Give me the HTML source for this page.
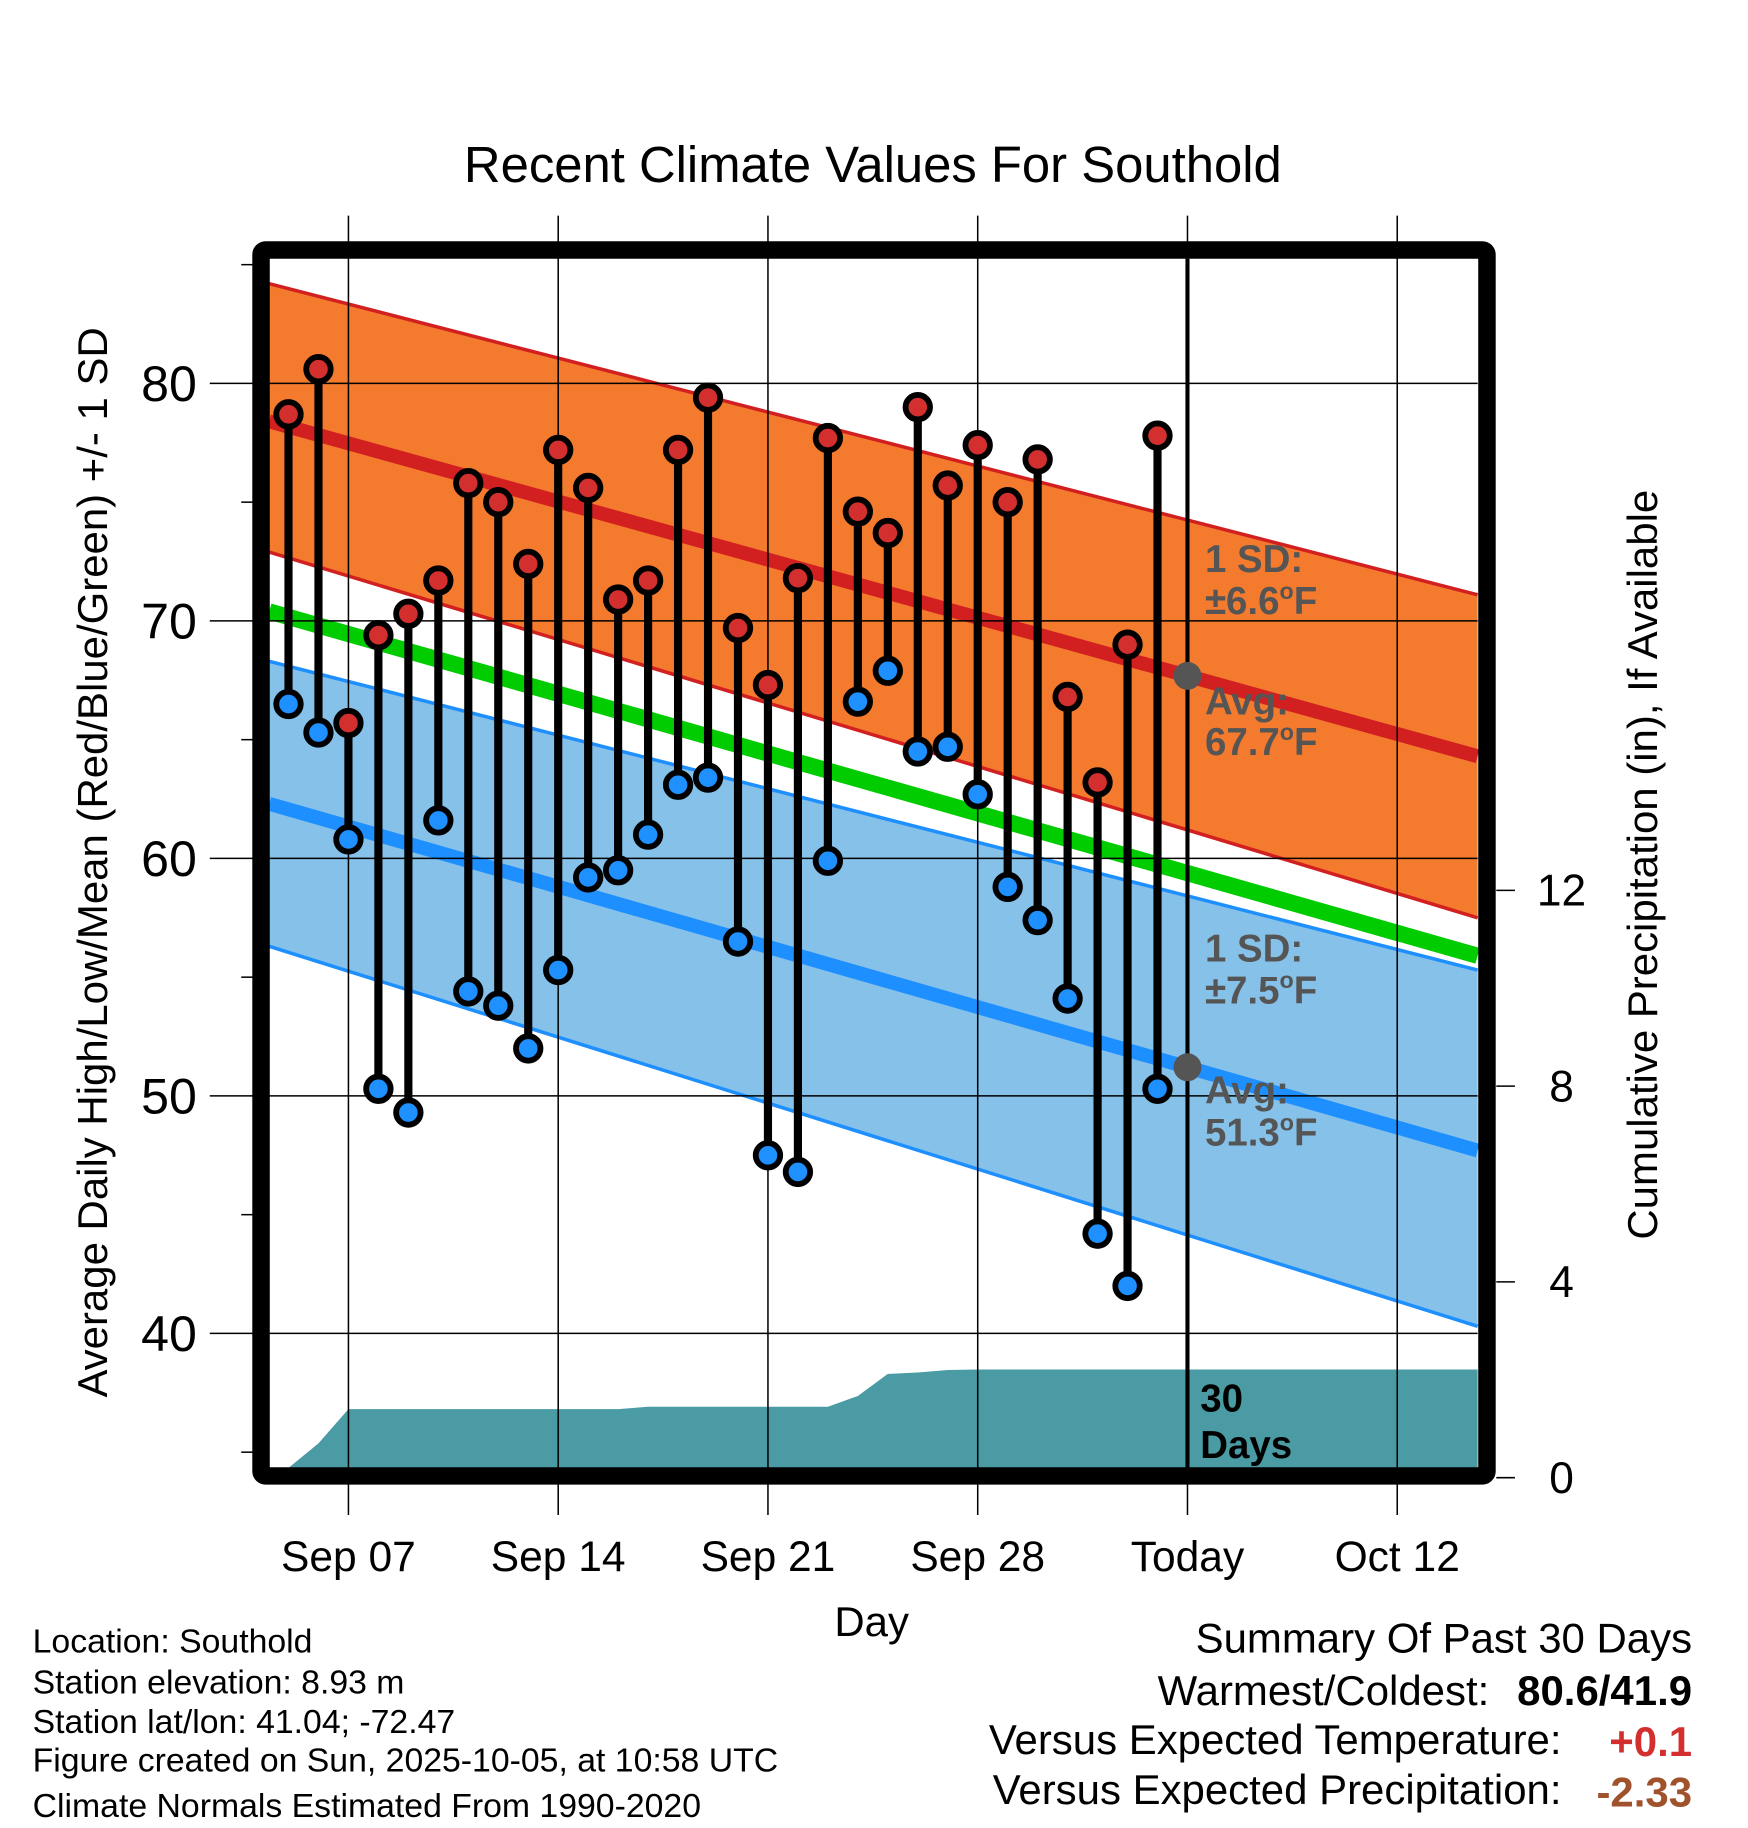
<!DOCTYPE html>
<html><head><meta charset="utf-8"><style>html,body{margin:0;padding:0;background:#fff}svg{display:block}text{font-family:"Liberation Sans",sans-serif}</style></head>
<body>
<svg id="chart" width="1748" height="1828" viewBox="0 0 1500 1568.6" preserveAspectRatio="none" xmlns="http://www.w3.org/2000/svg">
<rect width="1500" height="1568.6" fill="#fff"/>
<g id="plot"></g>
<text x="749" y="156" font-size="43.6" text-anchor="middle">Recent Climate Values For Southold</text>
<text transform="translate(92,740) rotate(-90)" font-size="36" text-anchor="middle">Average Daily High/Low/Mean (Red/Blue/Green) +/- 1 SD</text>
<text transform="translate(1422,742) rotate(-90)" font-size="36" text-anchor="middle">Cumulative Precipitation (in), If Available</text>
<text x="748" y="1404" font-size="36" text-anchor="middle">Day</text>
<g font-size="29">
<text x="28" y="1418">Location: Southold</text>
<text x="28" y="1453">Station elevation: 8.93 m</text>
<text x="28" y="1487">Station lat/lon: 41.04; -72.47</text>
<text x="28" y="1520">Figure created on Sun, 2025-10-05, at 10:58 UTC</text>
<text x="28" y="1559">Climate Normals Estimated From 1990-2020</text>
</g>
<g font-size="36">
<text x="1452" y="1418" text-anchor="end">Summary Of Past 30 Days</text>
<text x="1278" y="1463" text-anchor="end">Warmest/Coldest:</text>
<text x="1452" y="1463" text-anchor="end" font-weight="bold">80.6/41.9</text>
<text x="1340" y="1505" text-anchor="end">Versus Expected Temperature:</text>
<text x="1452" y="1507" text-anchor="end" font-weight="bold" fill="#d32f2f">+0.1</text>
<text x="1340" y="1548" text-anchor="end">Versus Expected Precipitation:</text>
<text x="1452" y="1550" text-anchor="end" font-weight="bold" fill="#a0522d">-2.33</text>
</g>
</svg>
<script>
const highs=[78.7,80.6,65.7,69.4,70.3,71.7,75.8,75.0,72.4,77.2,75.6,70.9,71.7,77.2,79.4,69.7,67.3,71.8,77.7,74.6,73.7,79.0,75.7,77.4,75.0,76.8,66.8,63.2,69.0,77.8];
const lows=[66.5,65.3,60.8,50.3,49.3,61.6,54.4,53.8,52.0,55.3,59.2,59.5,61.0,63.1,63.4,56.5,47.5,46.8,59.9,66.6,67.9,64.5,64.7,62.7,58.8,57.4,54.1,44.2,42.0,50.3];
const precip=[0.2,0.7,1.4,1.4,1.4,1.4,1.4,1.4,1.4,1.4,1.4,1.4,1.45,1.45,1.45,1.45,1.45,1.45,1.45,1.67,2.12,2.15,2.2,2.21,2.21,2.21,2.21,2.21,2.21,2.21];
const normHighUpper=[84.2,71.1], normHighMean=[78.4,64.3], normHighLower=[72.9,57.5];
const normMean=[70.4,55.9];
const normLowUpper=[68.3,55.3], normLowMean=[62.3,47.7], normLowLower=[56.3,40.3];
const xTickDays=[3,10,17,24,31,38];
const xTickLabels=["Sep 07","Sep 14","Sep 21","Sep 28","Today","Oct 12"];
const yTicks=[40,50,60,70,80];
const y2Ticks=[0,4,8,12];
const firstDay=1, todayDay=31;

const X0=231,X1=1268,Y0=222,Y1=1260;
const x=d=>299+(d-3)*180/7;
const y=t=>329+(80-t)*20.38;
const yp=p=>1268-p*42;
const dL=(X0-299)*7/180+3, dR=(X1-299)*7/180+3;
const NS="http://www.w3.org/2000/svg";
const g=document.getElementById('plot');
function mk(tag,attrs,parent){const e=document.createElementNS(NS,tag);for(const k in attrs)e.setAttribute(k,attrs[k]);(parent||g).appendChild(e);return e;}
function lin(arr,d){return arr[0]+(arr[1]-arr[0])*(d-dL)/(dR-dL);}
function bandPath(a,b){return `M${X0},${y(a[0])} L${X1},${y(a[1])} L${X1},${y(b[1])} L${X0},${y(b[0])} Z`;}
function linePts(a){return `${X0},${y(a[0])} ${X1},${y(a[1])}`;}
let e=mk('path',{d:bandPath(normHighUpper,normHighLower),fill:'#f47a2e'});

e=mk('path',{d:bandPath(normLowUpper,normLowLower),fill:'#85c1e9'});

[[normHighUpper,'#d22020',3,'high-upper-line'],[normHighLower,'#d22020',3,'high-lower-line'],[normHighMean,'#d22020',12,'high-mean-line'],[normMean,'#00cc00',14,'mean-line'],[normLowUpper,'#1e8fff',3,'low-upper-line'],[normLowLower,'#1e8fff',3,'low-lower-line'],[normLowMean,'#1e8fff',12,'low-mean-line']].forEach(a=>{
 const l=mk('polyline',{points:linePts(a[0]),stroke:a[1],'stroke-width':a[2],fill:'none'});
 
 
});
let pd=`M${X0},${Y1} L${X0},${yp(precip[0])}`;
precip.forEach((p,i)=>{pd+=` L${x(firstDay+i)},${yp(p)}`;});
pd+=` L${X1},${yp(precip[precip.length-1])} L${X1},${Y1} Z`;
e=mk('path',{d:pd,fill:'#4a9ba4'});

xTickDays.forEach((d,i)=>{
 const l=mk('line',{x1:x(d),x2:x(d),y1:185,y2:1300,stroke:'#000','stroke-width':1.3});
 
 
 const t=mk('text',{x:x(d),y:1348,'font-size':36.5,'text-anchor':'middle'});
 t.textContent=xTickLabels[i];
 
 
});
yTicks.forEach(v=>{
 const l=mk('line',{x1:180,x2:X1,y1:y(v),y2:y(v),stroke:'#000','stroke-width':1.3});
 
 
 const t=mk('text',{x:169,y:y(v)+15,'font-size':43,'text-anchor':'end'});
 t.textContent=v;
 
 
});
[35,45,55,65,75,85].forEach(v=>{mk('line',{x1:207,x2:217,y1:y(v),y2:y(v),stroke:'#000','stroke-width':1.3});});
y2Ticks.forEach(v=>{
 mk('line',{x1:1284,x2:1300,y1:yp(v),y2:yp(v),stroke:'#000','stroke-width':1.3});
 const t=mk('text',{x:1340,y:yp(v)+13,'font-size':38,'text-anchor':'middle'});
 t.textContent=v;
 
 
});
e=mk('line',{x1:x(todayDay),x2:x(todayDay),y1:Y0,y2:Y1,stroke:'#000','stroke-width':3.5});

function txt(s,tx,ty,fill,name){const t=mk('text',{x:tx,y:ty,'font-size':33,'font-weight':'bold',fill:fill});t.innerHTML=s;}
txt('1 SD:',1034,491,'#555','high-sd-label');txt('±6.6<tspan font-size="20" dy="-13">o</tspan><tspan dy="13">F</tspan>',1034,527,'#555','high-sd-value');
txt('Avg:',1034,613,'#555','high-avg-label');txt('67.7<tspan font-size="20" dy="-13">o</tspan><tspan dy="13">F</tspan>',1034,648,'#555','high-avg-value');
txt('1 SD:',1034,825,'#555','low-sd-label');txt('±7.5<tspan font-size="20" dy="-13">o</tspan><tspan dy="13">F</tspan>',1034,861,'#555','low-sd-value');
txt('Avg:',1034,947,'#555','low-avg-label');txt('51.3<tspan font-size="20" dy="-13">o</tspan><tspan dy="13">F</tspan>',1034,983,'#555','low-avg-value');
txt('30',1030,1211,'#000','days-label');txt('Days',1030,1251,'#000','days-label-2');
highs.forEach((h,i)=>{
 const d=firstDay+i, lo=lows[i];
 const s=mk('line',{x1:x(d),x2:x(d),y1:y(h),y2:y(lo),stroke:'#000','stroke-width':7});
 
 
 const c1=mk('circle',{cx:x(d),cy:y(h),r:10.5,fill:'#d32f2f',stroke:'#000','stroke-width':5});
 
 
 const c2=mk('circle',{cx:x(d),cy:y(lo),r:10.5,fill:'#1e90ff',stroke:'#000','stroke-width':5});
 
 
});
e=mk('circle',{cx:x(todayDay),cy:y(lin(normHighMean,todayDay)),r:12,fill:'#555'});

e=mk('circle',{cx:x(todayDay),cy:y(lin(normLowMean,todayDay)),r:12,fill:'#555'});

e=mk('rect',{x:224,y:214.5,width:1052,height:1052,fill:'none',stroke:'#000','stroke-width':15,rx:4});

</script>
</body></html>
